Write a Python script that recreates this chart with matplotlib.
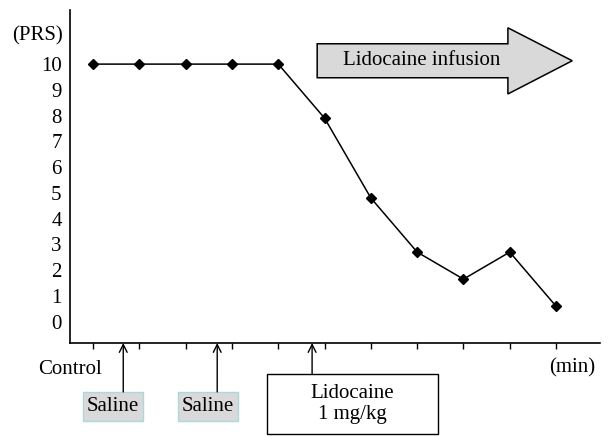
"""Pain rating score before and during lidocaine infusion."""

import matplotlib
matplotlib.use("Agg")
import matplotlib.pyplot as plt
from matplotlib.patches import Polygon, Rectangle

# Data
time_idx = [0, 1, 2, 3, 4, 5, 6, 7, 8, 9, 10]
prs = [10, 10, 10, 10, 10, 7.9, 4.8, 2.7, 1.65, 2.7, 0.6]
y_ticks = list(range(0, 11))
saline_times = [0.65, 2.68]
lidocaine_time = 4.73

plt.rcParams["font.family"] = ["Liberation Serif", "DejaVu Serif"]
FS = 15

fig = plt.figure(figsize=(6.11, 4.36), dpi=100)
ax = fig.add_axes([0.1146, 0.2133, 0.8674, 0.7637])

ax.plot(time_idx, prs, color="black", lw=1.1, marker="D", ms=5.5,
        clip_on=False, zorder=3)

ax.set_xlim(-0.5, 10.95)
ax.set_ylim(-0.83, 12.1)
ax.spines["top"].set_visible(False)
ax.spines["right"].set_visible(False)
for s in ("left", "bottom"):
    ax.spines[s].set_linewidth(1.2)

ax.set_yticks(y_ticks)
ax.set_yticklabels([str(v) for v in y_ticks], fontsize=FS)
ax.tick_params(axis="y", length=0, pad=6)
ax.set_xticks(time_idx)
ax.set_xticklabels([])
ax.tick_params(axis="x", direction="out", length=4, width=1)

# axis captions
ax.text(-1.2, 11.1, "(PRS)", fontsize=FS, ha="center", va="center",
        clip_on=False)
ax.text(-0.5, -1.85, "Control", fontsize=FS, ha="center", va="center",
        clip_on=False)
ax.text(10.35, -1.8, "(min)", fontsize=FS, ha="center", va="center",
        clip_on=False)

# saline injections
for t in saline_times:
    x0, x1 = t - 0.87, t + 0.43
    if t > 1:
        x0, x1 = t - 0.84, t + 0.45
    ax.add_patch(Rectangle((x0, -3.86), x1 - x0, 1.13, facecolor="#d9d9d9",
                           edgecolor="#a9d9dc", lw=1, clip_on=False))
    ax.text((x0 + x1) / 2, -3.3, "Saline", fontsize=FS, ha="center",
            va="center", clip_on=False)
    ax.annotate("", xy=(t, -0.83), xytext=(t, -2.73),
                arrowprops=dict(arrowstyle="->", lw=1, color="black",
                                shrinkA=0, shrinkB=0,
                                mutation_scale=14),
                annotation_clip=False)

# lidocaine bolus
ax.add_patch(Rectangle((3.76, -4.36), 3.69, 2.33, facecolor="white",
                       edgecolor="black", lw=1, clip_on=False))
ax.text(5.6, -3.2, "Lidocaine\n1 mg/kg", fontsize=FS, ha="center",
        va="center", linespacing=1.2, clip_on=False)
ax.annotate("", xy=(lidocaine_time, -0.83), xytext=(lidocaine_time, -2.03),
            arrowprops=dict(arrowstyle="->", lw=1, color="black",
                            shrinkA=0, shrinkB=0, mutation_scale=14),
            annotation_clip=False)

# infusion arrow
arrow = Polygon([(4.84, 9.47), (8.96, 9.47), (8.96, 8.84), (10.35, 10.13),
                 (8.96, 11.41), (8.96, 10.79), (4.84, 10.79)],
                closed=True, facecolor="#d9d9d9", edgecolor="black", lw=1.1,
                clip_on=False)
ax.add_patch(arrow)
ax.text(7.1, 10.13, "Lidocaine infusion", fontsize=FS, ha="center",
        va="center")

fig.savefig("out.png", dpi=100)
